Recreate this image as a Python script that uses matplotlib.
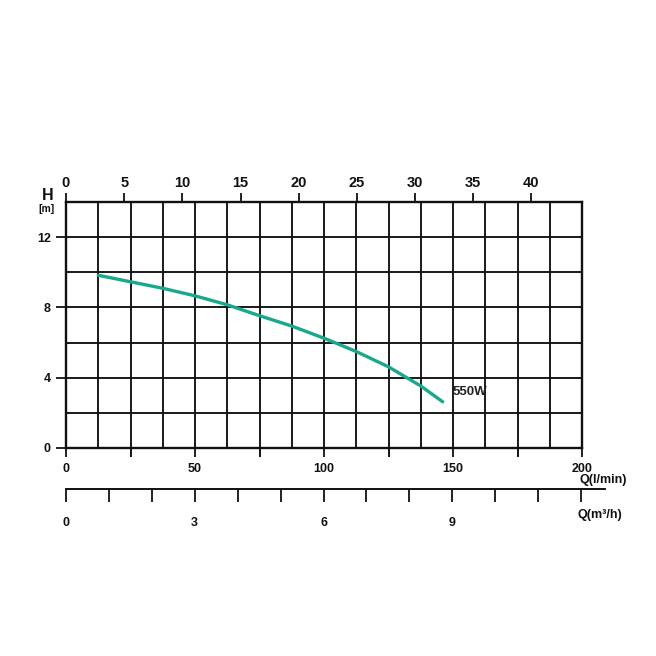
import matplotlib
matplotlib.use("Agg")
import matplotlib.pyplot as plt
from matplotlib.ticker import MultipleLocator, FixedLocator

plt.rcParams['font.family'] = ['Liberation Sans', 'DejaVu Sans']
plt.rcParams['font.weight'] = 'bold'

# data
q_lmin = [12.5, 25, 37.5, 50, 62.5, 75, 87.5, 100, 112.5, 125, 137.5, 146]
h_m = [9.83, 9.46, 9.09, 8.66, 8.15, 7.53, 6.94, 6.25, 5.49, 4.62, 3.53, 2.63]
series_label = "550W"
x_ticks_lmin = [0, 50, 100, 150, 200]
y_ticks = [0, 4, 8, 12]
top_ticks = [0, 5, 10, 15, 20, 25, 30, 35, 40]
m3h_labels = [0, 3, 6, 9]
top_factor = 4.51  # l/min per top-axis unit

W = H = 656
fig = plt.figure(figsize=(W / 100, H / 100), dpi=100)

def fx(px):
    return px / W

def fy(py):
    return 1 - py / H

left, right, top, bottom = 66, 582, 202, 448
ax = fig.add_axes([fx(left), fy(bottom), fx(right - left), fy(top) - fy(bottom)])
ax.set_xlim(0, 200)
ax.set_ylim(0, 14)
ax.xaxis.set_major_locator(FixedLocator(x_ticks_lmin))
ax.xaxis.set_minor_locator(MultipleLocator(25))
ax.yaxis.set_major_locator(FixedLocator(y_ticks))
for v in [i * 12.5 for i in range(1, 16)]:
    ax.axvline(v, color='#111111', lw=1.35, zorder=1)
for v in range(2, 14, 2):
    ax.axhline(v, color='#111111', lw=1.35, zorder=1)
for s in ax.spines.values():
    s.set_linewidth(1.7)
    s.set_color('#111111')
ax.tick_params(axis='x', which='major', length=6.5, width=1.3, labelsize=9, pad=4, colors='#111111')
ax.tick_params(axis='x', which='minor', length=6.5, width=1.3)
ax.tick_params(axis='y', length=7, width=1.3, labelsize=9, pad=4, colors='#111111')

ax.plot(q_lmin, h_m, color='#1aa88c', lw=2.4, zorder=3, solid_capstyle='round', solid_joinstyle='round')
ax.text(150, 3.2, series_label, fontsize=9.5, fontweight='bold', color='#222222', va='center', ha='left')

axt = ax.twiny()
axt.set_xlim(0, 200 / top_factor)
axt.xaxis.set_major_locator(FixedLocator(top_ticks))
axt.tick_params(axis='x', length=6.5, width=1.3, labelsize=10.5, pad=2, colors='#111111')
for s in axt.spines.values():
    s.set_visible(False)

# m3/h axis
ax2 = fig.add_axes([fx(left), fy(489), fx(605 - left), 0.001])
ax2.set_xlim(0, (605 - left) / 42.92)
for k in ['top', 'left', 'right']:
    ax2.spines[k].set_visible(False)
ax2.spines['bottom'].set_linewidth(1.4)
ax2.spines['bottom'].set_color('#111111')
ax2.set_yticks([])
ax2.xaxis.set_major_locator(FixedLocator(m3h_labels))
ax2.xaxis.set_minor_locator(MultipleLocator(1))
ax2.tick_params(axis='x', which='both', length=9, width=1.3, labelsize=9, pad=11, colors='#111111')
ax2.patch.set_visible(False)

fig.text(fx(48), fy(195), "H", fontsize=11.5, fontweight='bold', ha='center', va='center', color='#111111')
fig.text(fx(47), fy(209), "[m]", fontsize=7.5, fontweight='bold', ha='center', va='center', color='#111111')
fig.text(fx(579), fy(480), "Q(l/min)", fontsize=9, fontweight='bold', ha='left', va='center', color='#111111')
fig.text(fx(578), fy(515), "Q(m³/h)", fontsize=9, fontweight='bold', ha='left', va='center', color='#111111')

fig.savefig("out.png", dpi=100)
